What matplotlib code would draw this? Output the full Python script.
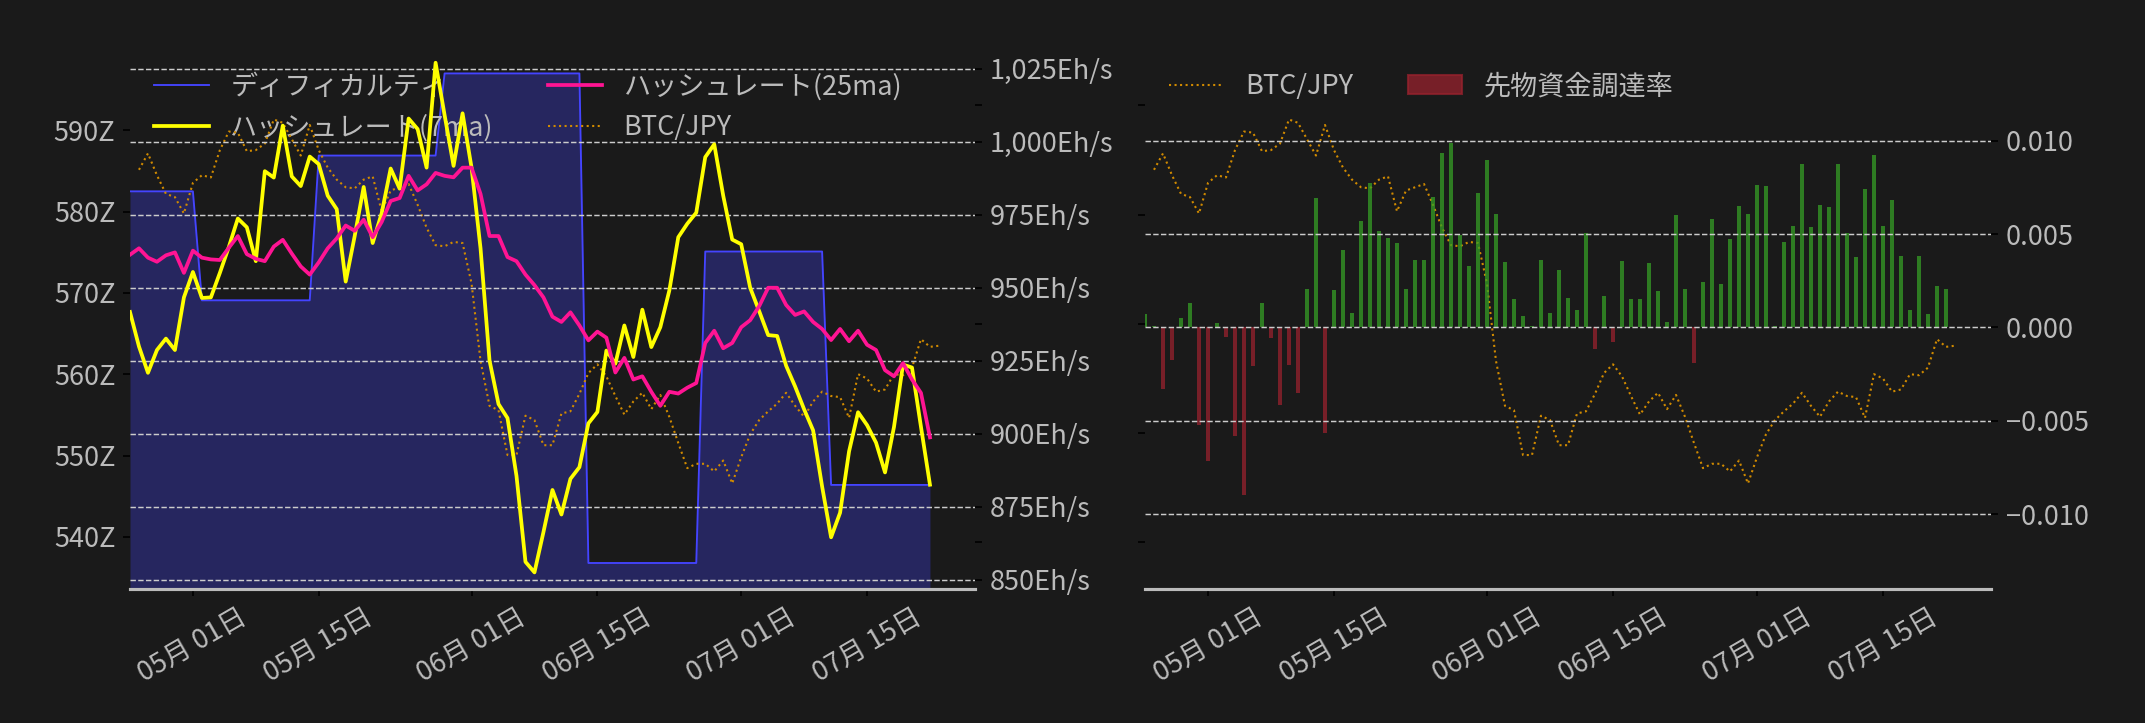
import pandas as pd
import matplotlib
matplotlib.use('Agg')
import matplotlib.pyplot as plt
import matplotlib.dates as mdates
from matplotlib.patches import Patch
from matplotlib.ticker import FuncFormatter

# 日本語フォント
plt.rcParams['font.family'] = ['Noto Sans CJK JP', 'DejaVu Sans']
plt.rcParams['font.size'] = 13

BG = '#1a1a1a'
TXT = '#bbbbbb'

# ===== データ =====
dates = pd.date_range('2024-04-24', periods=90, freq='D')
btc_dates = pd.date_range('2024-04-25', periods=90, freq='D')

# ディフィカルティ (Z)
difficulty = [
    582.5, 582.5, 582.5, 582.5, 582.5, 582.5, 582.5, 582.5,
    569.1, 569.1, 569.1, 569.1, 569.1, 569.1, 569.1, 569.1, 569.1, 569.1, 569.1, 569.1, 569.1,
    586.9, 586.9, 586.9, 586.9, 586.9, 586.9, 586.9, 586.9, 586.9, 586.9, 586.9, 586.9, 586.9, 586.9,
    597.0, 597.0, 597.0, 597.0, 597.0, 597.0, 597.0, 597.0, 597.0, 597.0, 597.0, 597.0, 597.0, 597.0, 597.0, 597.0,
    536.8, 536.8, 536.8, 536.8, 536.8, 536.8, 536.8, 536.8, 536.8, 536.8, 536.8, 536.8, 536.8,
    575.1, 575.1, 575.1, 575.1, 575.1, 575.1, 575.1, 575.1, 575.1, 575.1, 575.1, 575.1, 575.1, 575.1,
    546.4, 546.4, 546.4, 546.4, 546.4, 546.4, 546.4, 546.4, 546.4, 546.4, 546.4, 546.4,
]

# ハッシュレート 7日移動平均 (Eh/s)
hash_7ma = [
    941.7, 929.9, 920.9, 928.7, 932.6, 928.7, 946.7, 955.4, 946.5, 946.7,
    955.1, 964.0, 973.7, 970.7, 959.1, 989.9, 987.7, 1005.5, 988.1, 984.8,
    994.9, 992.3, 981.5, 976.9, 952.1, 967.7, 984.5, 965.3, 975.5, 990.8,
    983.9, 1007.9, 1004.3, 991.1, 1027.0, 1009.1, 991.7, 1009.7, 991.1, 963.5,
    925.1, 910.2, 905.4, 885.6, 856.2, 852.6, 866.4, 880.8, 872.4, 884.6,
    888.6, 903.6, 907.5, 928.5, 924.0, 937.1, 926.3, 942.5, 929.7, 936.5,
    949.0, 967.3, 971.9, 975.7, 994.7, 999.1, 981.5, 966.5, 964.9, 950.0,
    942.0, 933.8, 933.5, 923.3, 916.2, 908.4, 901.2, 882.0, 864.6, 873.0,
    894.0, 907.4, 903.0, 897.0, 886.8, 902.4, 923.7, 922.7, 902.4, 882.6,
]

# ハッシュレート 25日移動平均 (Eh/s)
hash_25ma = [
    961.3, 963.5, 960.3, 958.9, 961.1, 962.1, 955.1, 962.7, 960.3, 959.7,
    959.5, 963.7, 967.7, 961.5, 959.9, 959.1, 964.1, 966.4, 961.7, 957.3,
    954.5, 958.7, 963.5, 966.9, 971.3, 969.5, 973.3, 967.3, 972.5, 979.7,
    980.7, 988.3, 983.3, 985.4, 989.3, 988.3, 987.8, 991.1, 991.1, 982.1,
    967.7, 967.7, 960.5, 959.1, 954.5, 950.9, 946.7, 940.1, 938.3, 941.6,
    937.1, 932.0, 935.0, 932.9, 921.0, 926.0, 918.6, 919.7, 914.4, 909.6,
    914.4, 913.8, 915.8, 917.4, 931.1, 935.3, 929.3, 931.1, 936.5, 938.9,
    943.7, 950.0, 950.0, 944.1, 940.7, 941.9, 938.3, 935.9, 932.1, 935.9,
    931.7, 935.3, 930.5, 928.7, 921.8, 919.7, 924.2, 918.6, 914.0, 898.8,
]

# BTC/JPY (百万円)
btc_jpy = [
    15.41, 15.56, 15.36, 15.19, 15.16, 15.01, 15.29, 15.36, 15.34, 15.59,
    15.76, 15.75, 15.58, 15.59, 15.65, 15.87, 15.84, 15.69, 15.54, 15.82,
    15.59, 15.43, 15.32, 15.25, 15.24, 15.32, 15.35, 15.03, 15.22, 15.25,
    15.28, 15.09, 14.88, 14.72, 14.71, 14.75, 14.74, 14.37, 13.66, 13.25,
    13.21, 12.80, 12.80, 13.16, 13.12, 12.89, 12.89, 13.18, 13.20, 13.36,
    13.55, 13.63, 13.52, 13.34, 13.17, 13.29, 13.37, 13.22, 13.35, 13.15,
    12.91, 12.68, 12.72, 12.72, 12.65, 12.75, 12.54, 12.78, 12.99, 13.12,
    13.20, 13.27, 13.37, 13.25, 13.15, 13.29, 13.38, 13.34, 13.33, 13.14,
    13.54, 13.50, 13.38, 13.40, 13.54, 13.53, 13.60, 13.86, 13.79, 13.80,
]

# 先物資金調達率
funding = [
    0.00071, 0.00008, -0.00328, -0.00173, 0.00051, 0.00129, -0.00520, -0.00713, 0.00023, -0.00049,
    -0.00580, -0.00895, -0.00204, 0.00129, -0.00054, -0.00413, -0.00199, -0.00349, 0.00204, 0.00692,
    -0.00563, 0.00201, 0.00415, 0.00077, 0.00568, 0.00773, 0.00516, 0.00478, 0.00452, 0.00204,
    0.00360, 0.00360, 0.00698, 0.00932, 0.00987, 0.00493, 0.00328, 0.00719, 0.00895, 0.00606,
    0.00349, 0.00152, 0.00060, 0.00008, 0.00360, 0.00077, 0.00308, 0.00158, 0.00094, 0.00503,
    -0.00116, 0.00167, -0.00079, 0.00355, 0.00152, 0.00152, 0.00345, 0.00195, 0.00028, 0.00600,
    0.00204, -0.00191, 0.00242, 0.00580, 0.00233, 0.00473, 0.00649, 0.00606, 0.00762, 0.00756,
    0.00008, 0.00456, 0.00542, 0.00874, 0.00537, 0.00655, 0.00644, 0.00874, 0.00503, 0.00377,
    0.00739, 0.00921, 0.00542, 0.00681, 0.00381, 0.00094, 0.00381, 0.00071, 0.00221, 0.00204,
]

x_end = dates[0] + pd.Timedelta(days=94)


def style(ax, bottom=True):
    ax.set_facecolor(BG)
    for s in ['top', 'left', 'right']:
        ax.spines[s].set_visible(False)
    ax.spines['bottom'].set_visible(bottom)
    ax.spines['bottom'].set_color(TXT)
    ax.spines['bottom'].set_linewidth(1.5)
    ax.tick_params(colors='black', labelcolor=TXT)


fig = plt.figure(figsize=(14.3, 4.82), dpi=150, facecolor=BG)

# ===== 左: ディフィカルティ & ハッシュレート =====
ax1 = fig.add_axes([0.0606, 0.1853, 0.3939, 0.7469])
style(ax1)
ax3 = ax1.twinx()   # BTC/JPY
style(ax3, bottom=False)
ax2 = ax1.twinx()   # ハッシュレート
style(ax2, bottom=False)

diff_lo, diff_hi = 533.6, 600.0
l_diff, = ax1.plot(dates, difficulty, color='#4444ff', linewidth=0.9, label='ディフィカルティ')
ax1.fill_between(dates, difficulty, diff_lo, color='#4444ff', alpha=0.3, linewidth=0)
ax1.set_ylim(diff_lo, diff_hi)
ax1.set_yticks([540, 550, 560, 570, 580, 590])
ax1.yaxis.set_major_formatter(FuncFormatter(lambda v, p: f'{v:.0f}Z'))

l_btc, = ax3.plot(btc_dates, btc_jpy, color='#d08a00', linestyle=':', linewidth=1.0, label='BTC/JPY')
ax3.set_ylim(11.574, 16.515)
ax3.set_yticks([12, 14, 16])
ax3.set_yticklabels([])

l_7, = ax2.plot(dates, hash_7ma, color='#ffff00', linewidth=1.8, label='ハッシュレート(7ma)')
l_25, = ax2.plot(dates, hash_25ma, color='#ff1493', linewidth=1.8, label='ハッシュレート(25ma)')
ax2.set_ylim(846.9, 1031.7)
ax2.set_yticks([850, 875, 900, 925, 950, 975, 1000, 1025])
ax2.yaxis.set_major_formatter(FuncFormatter(lambda v, p: f'{v:,.0f}Eh/s'))
ax2.grid(axis='y', linestyle='--', color='#cccccc', linewidth=0.7)

ax1.set_xlim(dates[0], x_end)
ax1.xaxis.set_major_locator(mdates.DayLocator(bymonthday=[1, 15]))
ax1.xaxis.set_major_formatter(mdates.DateFormatter('%m月 %d日'))
ax1.tick_params(axis='x', labelrotation=30)

ax1.legend([l_diff, l_7, l_25, l_btc],
           ['ディフィカルティ', 'ハッシュレート(7ma)', 'ハッシュレート(25ma)', 'BTC/JPY'],
           loc='upper left', ncol=2, frameon=False, labelcolor=TXT)

# ===== 右: BTC/JPY & 先物資金調達率 =====
ax4 = fig.add_axes([0.5338, 0.1853, 0.3944, 0.7469])
style(ax4)
ax5 = ax4.twinx()
style(ax5, bottom=False)

r_btc, = ax4.plot(btc_dates, btc_jpy, color='#d08a00', linestyle=':', linewidth=1.0)
ax4.set_ylim(11.574, 16.515)
ax4.set_yticks([12, 13, 14, 15, 16])
ax4.set_yticklabels([])

bar_colors = ['#359e25' if v >= 0 else '#97222d' for v in funding]
ax5.bar(dates, funding, width=0.55, color=bar_colors, alpha=0.75)
ax5.set_ylim(-0.0140, 0.0149)
ax5.set_yticks([-0.010, -0.005, 0.0, 0.005, 0.010])
ax5.yaxis.set_major_formatter(FuncFormatter(lambda v, p: f'{v:.3f}'.replace('-', '\u2212')))
ax5.grid(axis='y', linestyle='--', color='#cccccc', linewidth=0.7)

ax4.set_xlim(dates[0], x_end)
ax4.xaxis.set_major_locator(mdates.DayLocator(bymonthday=[1, 15]))
ax4.xaxis.set_major_formatter(mdates.DateFormatter('%m月 %d日'))
ax4.tick_params(axis='x', labelrotation=30)

ax5.legend([r_btc, Patch(color='#97222d', alpha=0.75)], ['BTC/JPY', '先物資金調達率'],
           loc='upper left', ncol=2, frameon=False, labelcolor=TXT)

plt.savefig('out.png', dpi=150, facecolor=BG)
print("done")
